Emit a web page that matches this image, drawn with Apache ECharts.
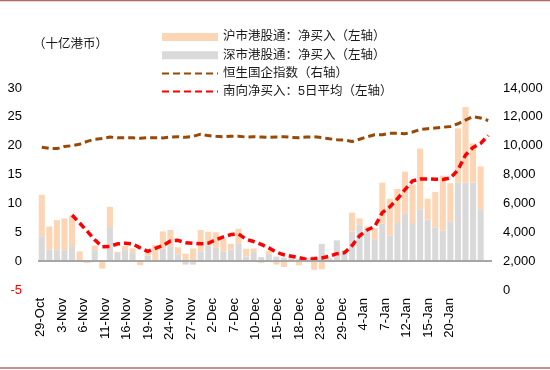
<!DOCTYPE html>
<html>
<head>
<meta charset="utf-8">
<script src="https://cdn.jsdelivr.net/npm/echarts@6/dist/echarts.min.js"></script>
<style>
html,body{margin:0;padding:0;background:#fff;}
#chart{width:550px;height:370px;}
</style>
</head>
<body>
<div id="chart"></div>
<script>
// Trading days (categories)
const dates = ['29-Oct','30-Oct',
 '2-Nov','3-Nov','4-Nov','5-Nov','6-Nov','9-Nov','10-Nov','11-Nov','12-Nov','13-Nov','16-Nov','17-Nov','18-Nov','19-Nov','20-Nov','23-Nov','24-Nov','25-Nov','26-Nov','27-Nov','30-Nov',
 '1-Dec','2-Dec','3-Dec','4-Dec','7-Dec','8-Dec','9-Dec','10-Dec','11-Dec','14-Dec','15-Dec','16-Dec','17-Dec','18-Dec','21-Dec','22-Dec','23-Dec','24-Dec','28-Dec','29-Dec','30-Dec','31-Dec',
 '4-Jan','5-Jan','6-Jan','7-Jan','8-Jan','11-Jan','12-Jan','13-Jan','14-Jan','15-Jan','18-Jan','19-Jan','20-Jan','21-Jan','22-Jan'];

// Tick labels shown under the axis
const tickLabels = ['29-Oct','3-Nov','6-Nov','11-Nov','16-Nov','19-Nov','24-Nov','27-Nov','2-Dec','7-Dec',
 '10-Dec','15-Dec','18-Dec','23-Dec','29-Dec','4-Jan','7-Jan','12-Jan','15-Jan','20-Jan'];

// 沪市港股通：净买入 (十亿港币)
const shNet = [7.2,4.0,5.2,5.5,5.3,1.6,-0.3,0.8,-1.3,3.5,
 0.2,0.7,0.8,-0.7,0.9,2.6,2.95,2.8,1.3,1.3,
 2.2,3.7,2.4,2.7,2.2,1.0,2.5,1.35,0.6,-0.3,
 0.5,-0.6,-1.0,0.1,-0.7,0.0,-1.5,-1.4,0.1,0.0,
 0.0,3.3,1.1,0.7,1.9,7.1,6.4,5.9,7.2,6.7,
 10.5,3.6,6.15,9.5,6.6,9.4,13.1,6.8,7.4];

// 深市港股通：净买入 (十亿港币)
const szNet = [4.3,2.0,1.9,1.9,2.6,0.1,0.0,1.9,0.0,5.9,
 1.4,1.9,1.4,0.0,1.0,0.2,2.2,2.6,1.1,-0.6,
 -0.6,1.7,2.7,2.3,1.7,2.0,3.1,0.8,1.6,0.7,
 1.3,0.8,0.6,0.6,0.4,0.6,0.9,3.0,0.4,3.6,
 1.9,5.1,6.3,5.3,3.8,6.5,4.4,6.6,8.3,6.6,
 9.0,7.2,5.85,5.3,6.9,13.6,13.6,13.6,9.0];

// 恒生国企指数 (右轴)
const hscei = [9900,9820,9800,9950,10000,10100,10300,10450,10500,10600,
 10550,10550,10550,10520,10550,10560,10540,10600,10620,10580,
 10650,10800,10700,10650,10620,10650,10660,10600,10620,10600,
 10580,10600,10620,10580,10560,10600,10620,10560,10480,10420,
 10400,10290,10450,10620,10760,10760,10870,10870,10830,10950,
 11120,11180,11230,11280,11330,11520,11780,12020,11920,11750];

// 南向净买入：5日平均 (左轴)
const ma5 = [null,null,null,null,8.0,6.6,5.2,3.7,2.5,2.55,
 3.0,3.1,3.0,2.3,1.7,2.2,2.7,3.5,3.6,3.2,
 3.1,3.0,3.1,3.7,4.2,4.6,4.7,3.8,3.4,2.9,
 2.3,1.55,1.1,0.85,0.6,0.3,0.4,0.55,0.85,1.3,
 1.45,2.7,4.4,5.4,6.0,8.4,9.4,10.8,12.4,13.9,
 14.25,14.25,14.2,14.15,14.4,15.8,18.4,19.7,20.4,21.8];

const leftTicks = {min:-5, max:30, interval:5};
const rightTicks = {min:0, max:14000, interval:2000};

const FONT = "'Liberation Sans', Arial, 'Noto Sans CJK SC', sans-serif";
const CJK = "'Liberation Sans', 'Noto Sans CJK SC', sans-serif";

const chart = echarts.init(document.getElementById('chart'), null, {renderer:'canvas'});
const option = {
  backgroundColor:'#ffffff',
  animation:false,
  textStyle:{fontFamily:FONT},
  grid:{left:38, right:58, top:88, bottom:80, containLabel:false},
  legend:{
    orient:'vertical', left:156, top:25, itemGap:4.2,
    itemWidth:56, itemHeight:8,
    textStyle:{fontFamily:CJK, fontSize:12.5, color:'#1a1a1a', lineHeight:14},
    data:[
      {name:'沪市港股通：净买入（左轴）', icon:'rect'},
      {name:'深市港股通：净买入（左轴）', icon:'rect'},
      {name:'恒生国企指数（右轴）', itemStyle:{opacity:0}},
      {name:'南向净买入：5日平均（左轴）', itemStyle:{opacity:0}}
    ]
  },
  graphic:[
    {type:'text', left:33, top:37, style:{text:'（十亿港币）', font:"12.5px 'Noto Sans CJK SC', sans-serif", fill:'#1a1a1a'}},
    {type:'line', shape:{x1:0,y1:0.5,x2:550,y2:0.5}, style:{stroke:'#b06a6a', lineWidth:1.5}},
    {type:'line', shape:{x1:0,y1:368,x2:550,y2:368}, style:{stroke:'#b06a6a', lineWidth:1.5}}
  ],
  xAxis:[
    {type:'category', data:dates, boundaryGap:true,
     axisLine:{show:false}, axisTick:{show:false}, axisLabel:{show:false}, splitLine:{show:false}},
    {type:'value', position:'bottom', min:-0.111, max:20.956,
     axisLine:{show:false}, axisTick:{show:false}, splitLine:{show:false},
     axisLabel:{show:true, rotate:90, margin:8, fontSize:13, color:'#000', fontFamily:FONT,
       customValues: tickLabels.map((_, i) => i),
       formatter: v => tickLabels[Math.round(v)] || ''}}
  ],
  yAxis:[
    {type:'value', min:leftTicks.min, max:leftTicks.max, interval:leftTicks.interval,
     axisLine:{show:false}, axisTick:{show:false}, splitLine:{show:false},
     axisLabel:{margin:16, fontSize:13, fontFamily:FONT,
       color: v => (v < 0 ? '#ff0000' : '#000000')}},
    {type:'value', min:rightTicks.min, max:rightTicks.max, interval:rightTicks.interval,
     axisLine:{show:false}, axisTick:{show:false}, splitLine:{show:false},
     axisLabel:{margin:11, fontSize:13, color:'#000', fontFamily:FONT,
       formatter: v => v.toLocaleString('en-US')}}
  ],
  series:[
    {name:'深市港股通：净买入（左轴）', type:'bar', stack:'net', xAxisIndex:0, yAxisIndex:0,
     data:szNet, barWidth:'80%', itemStyle:{color:'#d9d9d9'},
     markLine:{silent:true, symbol:'none', label:{show:false},
       lineStyle:{color:'#a6a6a6', width:2, type:'solid'}, data:[{yAxis:0}]}},
    {name:'沪市港股通：净买入（左轴）', type:'bar', stack:'net', xAxisIndex:0, yAxisIndex:0,
     data:shNet, barWidth:'80%', itemStyle:{color:'#fcd5b5'}},
    {name:'恒生国企指数（右轴）', type:'line', xAxisIndex:0, yAxisIndex:1,
     data:hscei, symbol:'none', smooth:false,
     lineStyle:{color:'#984807', width:3, type:[7,4]}, itemStyle:{color:'#984807'}},
    {name:'南向净买入：5日平均（左轴）', type:'line', xAxisIndex:0, yAxisIndex:0,
     data:ma5, symbol:'none', smooth:false, connectNulls:false,
     lineStyle:{color:'#ff0000', width:3.5, type:[7,4]}, itemStyle:{color:'#ff0000'}}
  ]
};
chart.setOption(option);
</script>
</body>
</html>
